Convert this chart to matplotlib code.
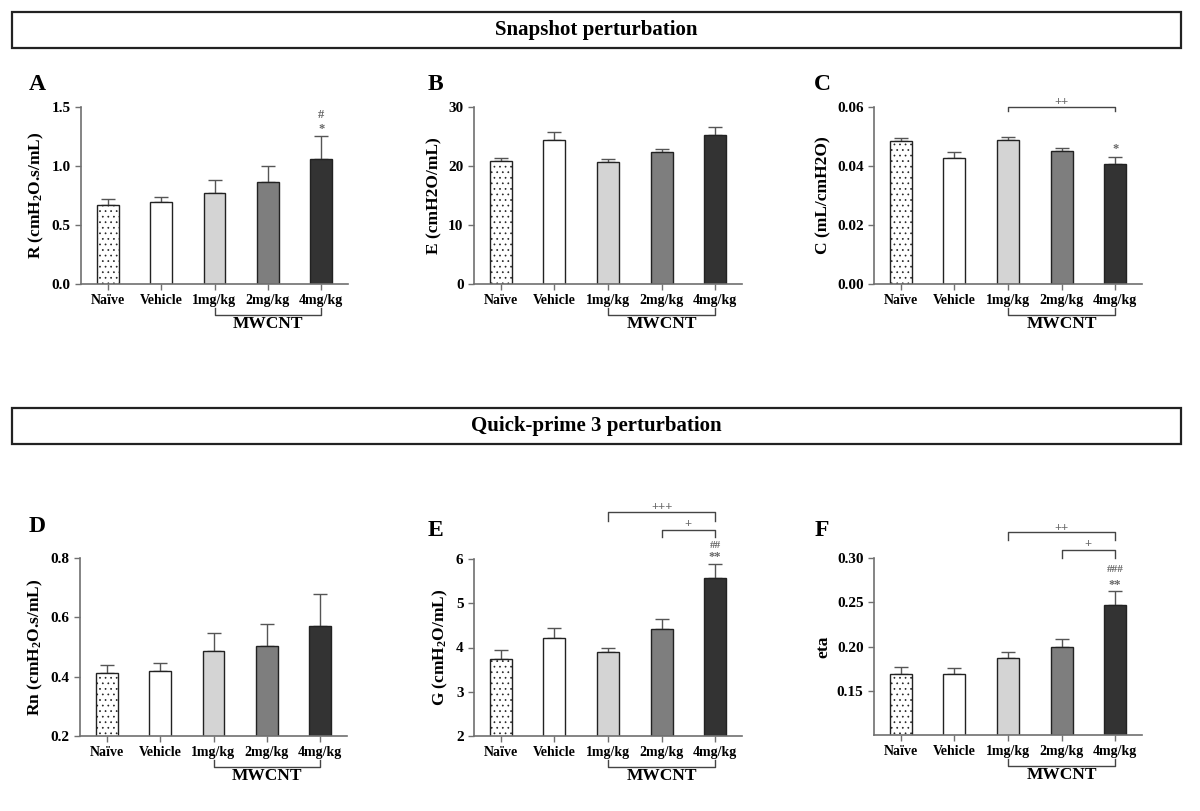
import numpy as np
import matplotlib; matplotlib.use('Agg')
import matplotlib.pyplot as plt
from matplotlib.patches import Rectangle

plt.rcParams.update({'font.family': 'Liberation Serif', 'font.weight': 'bold',
                     'mathtext.fontset': 'custom', 'mathtext.rm': 'Liberation Serif:bold',
                     'mathtext.bf': 'Liberation Serif:bold', 'mathtext.default': 'bf',
                     'hatch.linewidth': 0.5, 'hatch.color': '#444444'})

groups = ['Naïve', 'Vehicle', '1mg/kg', '2mg/kg', '4mg/kg']

# means and SEM (upper whisker only)
R_mean  = [0.668, 0.699, 0.775, 0.866, 1.057]
R_err   = [0.051, 0.040, 0.107, 0.135, 0.198]
E_mean  = [20.87, 24.37, 20.70, 22.33, 25.20]
E_err   = [0.53, 1.41, 0.56, 0.63, 1.40]
C_mean  = [0.0484, 0.0428, 0.0487, 0.0451, 0.0406]
C_err   = [0.0011, 0.0019, 0.0012, 0.0009, 0.0023]
Rn_mean = [0.414, 0.418, 0.488, 0.503, 0.572]
Rn_err  = [0.026, 0.027, 0.060, 0.073, 0.107]
G_mean  = [3.74, 4.22, 3.90, 4.41, 5.57]
G_err   = [0.21, 0.21, 0.09, 0.24, 0.32]
eta_mean = [0.1684, 0.1688, 0.1865, 0.1992, 0.2470]
eta_err  = [0.0083, 0.0068, 0.0071, 0.0098, 0.0158]

colors = ['white', 'white', '#d4d4d4', '#7e7e7e', '#333333']
hatches = ['...', '', '', '', '']
AX_GRAY = '#707070'

W, H = 1200, 811
fig = plt.figure(figsize=(12, 8.11), dpi=100)

def px_axes(l, r, t, b):
    return fig.add_axes([l / W, 1 - b / H, (r - l) / W, (b - t) / H])

def header(y0, y1, text):
    fig.add_artist(Rectangle((12 / W, 1 - y1 / H), (1181 - 12) / W, (y1 - y0) / H,
                             transform=fig.transFigure, fill=False, lw=1.6, ec='#222222'))
    fig.text(596 / W, 1 - (y0 + y1) / 2 / H, text, ha='center', va='center',
             fontsize=15, fontweight='bold')

header(12, 48, 'Snapshot perturbation')
header(408, 444, 'Quick-prime 3 perturbation')

def panel(box, letter, letter_xy, mean, err, ylabel, ylim, yticks, fmt):
    ax = px_axes(*box)
    x = np.arange(len(groups))
    ax.bar(x, mean, width=0.41, color=colors, edgecolor='#222222', lw=1.0,
           hatch=hatches, zorder=2)
    ax.errorbar(x, mean, yerr=[np.zeros(len(err)), err], fmt='none', ecolor='#555555',
                elinewidth=1.0, capsize=5, capthick=1.0, zorder=1)
    ax.set_xlim(-0.5, 4.5)
    ax.set_ylim(*ylim)
    ax.set_yticks(yticks)
    ax.set_yticklabels([fmt.format(v) for v in yticks])
    ax.set_xticks(x)
    ax.set_xticklabels(groups)
    for s in ['top', 'right']:
        ax.spines[s].set_visible(False)
    for s in ['left', 'bottom']:
        ax.spines[s].set_color(AX_GRAY)
        ax.spines[s].set_linewidth(1.2)
    ax.spines['left'].set_bounds(ylim[0], yticks[-1])
    ax.tick_params(colors=AX_GRAY, labelcolor='black', labelsize=10, length=4, width=1.0)
    ax.tick_params(axis='y', labelsize=11)
    ax.set_ylabel(ylabel, fontsize=12.5, fontweight='bold', labelpad=4)
    for lab in ax.get_xticklabels() + ax.get_yticklabels():
        lab.set_fontweight('bold')
    # MWCNT bracket under the tick labels
    tr = ax.get_xaxis_transform()
    ax.plot([2, 2, 4, 4], [-0.135, -0.175, -0.175, -0.135], color='#444444', lw=1.0,
            transform=tr, clip_on=False)
    ax.text(3, -0.225, 'MWCNT', transform=tr, ha='center', va='center',
            fontsize=12.5, fontweight='bold')
    fig.text(letter_xy[0] / W, 1 - letter_xy[1] / H, letter, ha='center', va='center',
             fontsize=17, fontweight='bold')
    return ax

def mark(ax, x, y, s, size=9):
    ax.text(x, y, s, ha='center', va='center', fontsize=size, color='#666666', clip_on=False)

def bracket(ax, x0, x1, y, ydrop, s, ys):
    ax.plot([x0, x0, x1, x1], [ydrop, y, y, ydrop], color='#444444', lw=1.0, clip_on=False)
    mark(ax, (x0 + x1) / 2, ys, s)

axA = panel((81, 348, 107, 284), 'A', (37, 85), R_mean, R_err, 'R (cmH$_2$O.s/mL)',
            (0, 1.5), [0.0, 0.5, 1.0, 1.5], '{:.1f}')
mark(axA, 4, 1.317, '*')
mark(axA, 4, 1.43, '#')

axB = panel((474, 742, 107, 284), 'B', (435, 85), E_mean, E_err, 'E (cmH2O/mL)',
            (0, 30), [0, 10, 20, 30], '{:.0f}')

axC = panel((874, 1142, 107, 284), 'C', (822, 85), C_mean, C_err, 'C (mL/cmH2O)',
            (0, 0.06), [0.0, 0.02, 0.04, 0.06], '{:.2f}')
mark(axC, 4, 0.0456, '*')
bracket(axC, 2, 4, 0.06, 0.0587, '++', 0.0618)

axD = panel((80, 347, 558, 736), 'D', (37, 527), Rn_mean, Rn_err, 'Rn (cmH$_2$O.s/mL)',
            (0.2, 0.8), [0.2, 0.4, 0.6, 0.8], '{:.1f}')

axE = panel((474, 742, 559, 736), 'E', (435, 530), G_mean, G_err, 'G (cmH$_2$O/mL)',
            (2, 6), [2, 3, 4, 5, 6], '{:.0f}')
mark(axE, 4, 6.05, '**')
mark(axE, 4, 6.30, '##', 8)
bracket(axE, 2, 4, 7.06, 6.87, '+++', 7.18)
bracket(axE, 3, 4, 6.66, 6.50, '+', 6.80)

axF = panel((874, 1142, 558, 735), 'F', (822, 530), eta_mean, eta_err, 'eta',
            (0.10, 0.30), [0.15, 0.20, 0.25, 0.30], '{:.2f}')
mark(axF, 4, 0.2700, '**')
mark(axF, 4, 0.2865, '###', 8)
bracket(axF, 2, 4, 0.329, 0.320, '++', 0.334)
bracket(axF, 3, 4, 0.309, 0.2997, '+', 0.316)

fig.savefig('out.png', dpi=100)
